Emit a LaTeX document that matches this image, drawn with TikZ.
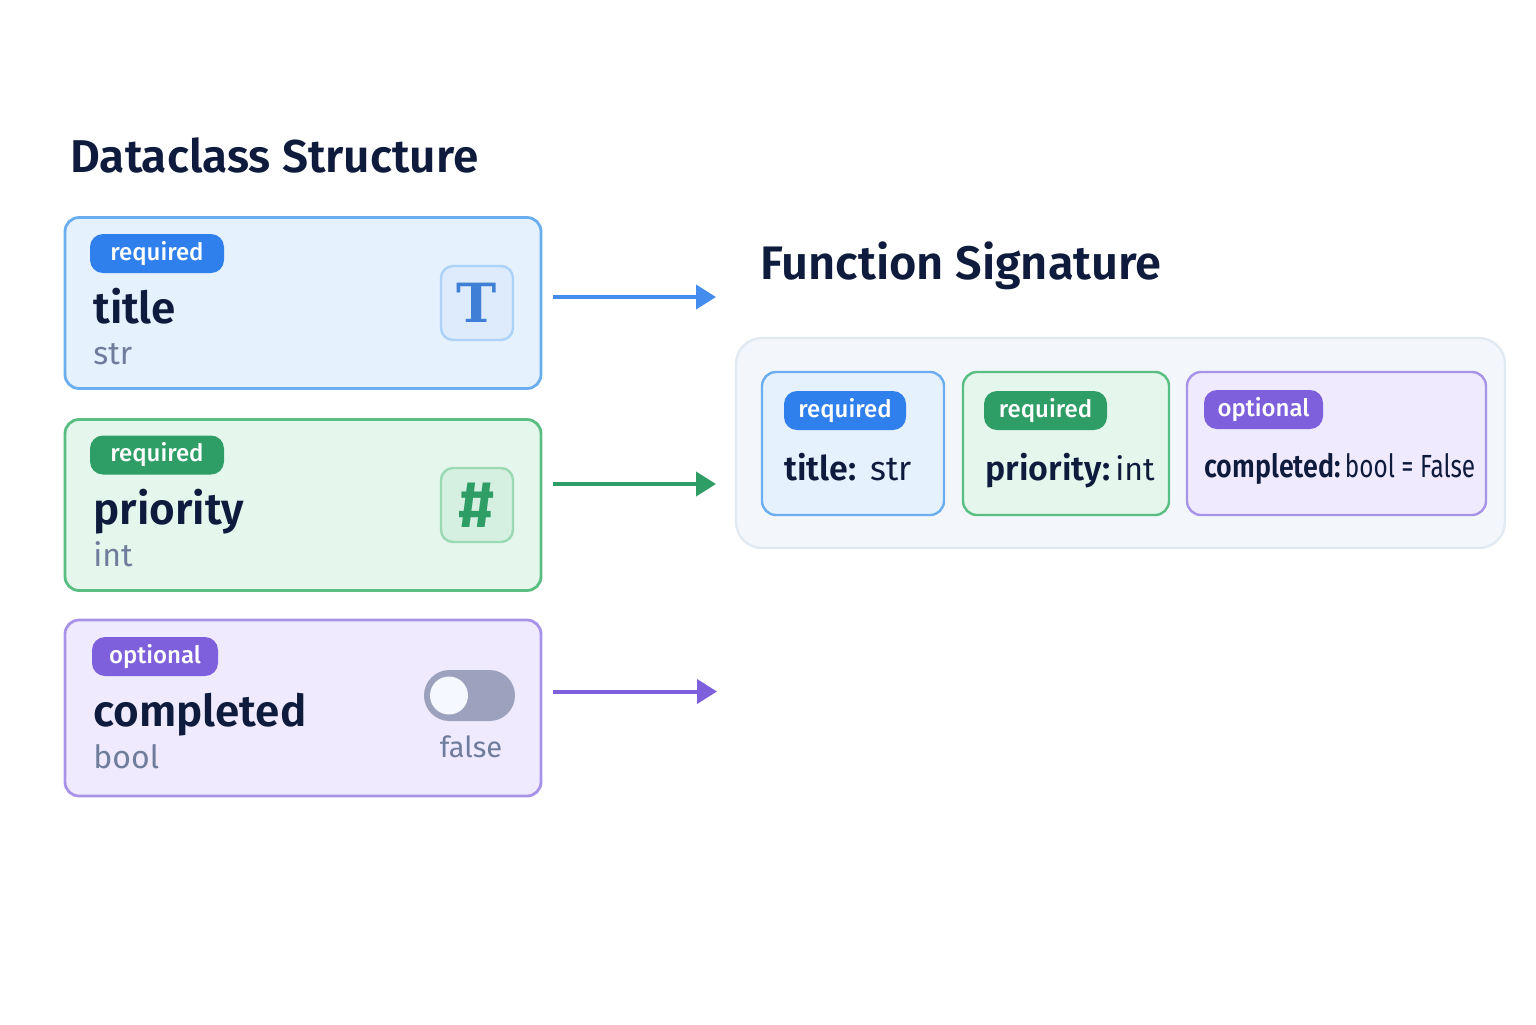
\documentclass[tikz,border=0pt]{standalone}
\usepackage{fontspec}
\setmainfont[BoldFont={Fira Sans SemiBold}]{Fira Sans}
\newfontfamily\mediumfont{Fira Sans Medium}
\newfontfamily\slabfont{DejaVu Serif}
\newfontfamily\narrowfont[FakeStretch=0.84, BoldFont={Fira Sans SemiBold}]{Fira Sans}
\newfontfamily\narrowerfont[FakeStretch=0.76]{Fira Sans}
\usetikzlibrary{arrows.meta, positioning}
\definecolor{cblue}{HTML}{2F80ED}
\definecolor{cgreen}{HTML}{2E9E66}
\definecolor{cpurple}{HTML}{7E5FDC}
\definecolor{cnavy}{HTML}{0F1B3D}
\definecolor{cgrey}{HTML}{6F7C9C}
\definecolor{cglyph}{HTML}{3F7FD6}
\definecolor{sblue}{HTML}{6AAEF0}
\definecolor{sgreen}{HTML}{58BE82}
\definecolor{spurple}{HTML}{A793E8}
\definecolor{fblue}{HTML}{E6F1FE}
\definecolor{fgreen}{HTML}{E5F7EC}
\definecolor{fpurple}{HTML}{EFEAFD}
\definecolor{fpanel}{HTML}{F3F7FB}
\definecolor{spanel}{HTML}{E1E9F2}
\tikzset{
  every picture/.style={x=0.5pt, y=-0.5pt},
  card/.style n args={2}{draw=#1, fill=#2, line width=1.4pt, rounded corners=7pt, minimum width=238pt},
  subcard/.style n args={2}{draw=#1, fill=#2, line width=1.2pt, rounded corners=7pt, minimum height=71.5pt},
  badge/.style={fill=#1, text=white, rounded corners=6.5pt, minimum height=19.5pt, inner sep=0pt, font=\fontsize{12}{14}\selectfont\mediumfont},
  iconbox/.style n args={2}{draw=#1, fill=#2, line width=1.2pt, rounded corners=6pt, minimum width=36pt, minimum height=37pt},
  heading/.style={anchor=base west, inner sep=0pt, text=cnavy, font=\fontsize{23.5}{26}\selectfont\bfseries},
  fieldname/.style={anchor=base west, inner sep=0pt, text=cnavy, font=\fontsize{22}{26}\selectfont\bfseries},
  fieldtype/.style={anchor=base west, inner sep=0pt, text=cgrey, font=\fontsize{16}{18}\selectfont},
  sigtext/.style={anchor=base west, inner sep=0pt, text=cnavy, font=\fontsize{17}{20}\selectfont},
  flow/.style={-{Triangle[length=10pt, width=12pt]}, draw=#1, line width=2pt},
}
\begin{document}
\begin{tikzpicture}
  \useasboundingbox (0,0) rectangle (1536,1024);
  \node[heading, font=\fontsize{23}{26}\selectfont\bfseries] (dctitle) at (70,172) {Dataclass Structure};
  \node[heading] (fstitle) at (760,279) {Function Signature};
  % dataclass fields
  \node[card={sblue}{fblue}, minimum height=85.5pt] (ftitle) at (303,303) {};
  \node[card={sgreen}{fgreen}, minimum height=85.5pt] (fpriority) at (303,505) {};
  \node[card={spurple}{fpurple}, minimum height=88pt] (fcompleted) at (303,708) {};
  \node[badge=cblue, minimum width=67pt] (btitle) at (157,253.5) {required};
  \node[badge=cgreen, minimum width=67pt] (bpriority) at (157,455) {required};
  \node[badge=cpurple, minimum width=63pt] (bcompleted) at (155,656.5) {optional};
  \node[fieldname] (ntitle) at (93,323) {title};
  \node[fieldname] (npriority) at (93,524) {priority};
  \node[fieldname] (ncompleted) at (93,726) {completed};
  \node[fieldtype] (ttitle) at (93,364) {str};
  \node[fieldtype] (tpriority) at (93,566) {int};
  \node[fieldtype] (tcompleted) at (93,768) {bool};
  % icons
  \node[iconbox={sblue!55}{cblue!16}] (itbox) at (477,303) {};
  \node[font=\fontsize{27}{30}\selectfont\bfseries\slabfont, text=cglyph, inner sep=0pt] (itglyph) at (477,303) {T};
  \node[iconbox={sgreen!60}{sgreen!25}] (ipbox) at (477,505) {};
  \node[font=\fontsize{33}{33}\selectfont\bfseries, text=cgreen, inner sep=0pt] (ipglyph) at (477,505) {\#};
  \node[fill=cgrey!65!fpurple, rounded corners=12.7pt, minimum width=45.5pt, minimum height=25.5pt, inner sep=0pt] (toggle) at (469.5,695.5) {};
  \node[circle, fill=fblue!40!white, minimum size=19pt, inner sep=0pt] (knob) at (449,695.5) {};
  \node[fieldtype, anchor=base, font=\fontsize{14.5}{16}\selectfont] (tfalse) at (471,757) {false};
  % signature
  \node[draw=spanel, fill=fpanel, line width=1.2pt, rounded corners=13pt, minimum width=384.5pt, minimum height=105pt] (sigbox) at (1120.5,443) {};
  \node[subcard={sblue}{fblue}, minimum width=91pt] (stitle) at (853,443.5) {};
  \node[subcard={sgreen}{fgreen}, minimum width=103pt] (spriority) at (1066,443.5) {};
  \node[subcard={spurple}{fpurple}, minimum width=149.5pt] (scompleted) at (1336.5,443.5) {};
  \node[badge=cblue, minimum width=61pt] (bstitle) at (845,410.5) {required};
  \node[badge=cgreen, minimum width=61.5pt] (bspriority) at (1045.5,410.5) {required};
  \node[badge=cpurple, minimum width=59.5pt] (bscompleted) at (1263.5,409.5) {optional};
  \node[sigtext] (ltitle) at (784,480) {\textbf{title:}\hspace{7pt}str};
  \node[sigtext] (lpriority) at (985,480) {\textbf{priority:}\hspace{2.5pt}{\fontsize{16}{20}\selectfont int}};
  \node[sigtext, font=\fontsize{16}{20}\selectfont\narrowfont] (lcompleted) at (1204,477) {\textbf{completed:}\hspace{2pt}{\narrowerfont bool = False}};
  % arrows
  \coordinate (atitle) at (716,297);
  \coordinate (apriority) at (716,484);
  \coordinate (acompleted) at (717,691.5);
  \draw[flow=cblue!90!white] ([xshift=5.5pt]ftitle.east |- atitle) -- (atitle);
  \draw[flow=cgreen] ([xshift=5.5pt]fpriority.east |- apriority) -- (apriority);
  \draw[flow=cpurple] ([xshift=5.5pt]fcompleted.east |- acompleted) -- (acompleted);
\end{tikzpicture}
\end{document}
